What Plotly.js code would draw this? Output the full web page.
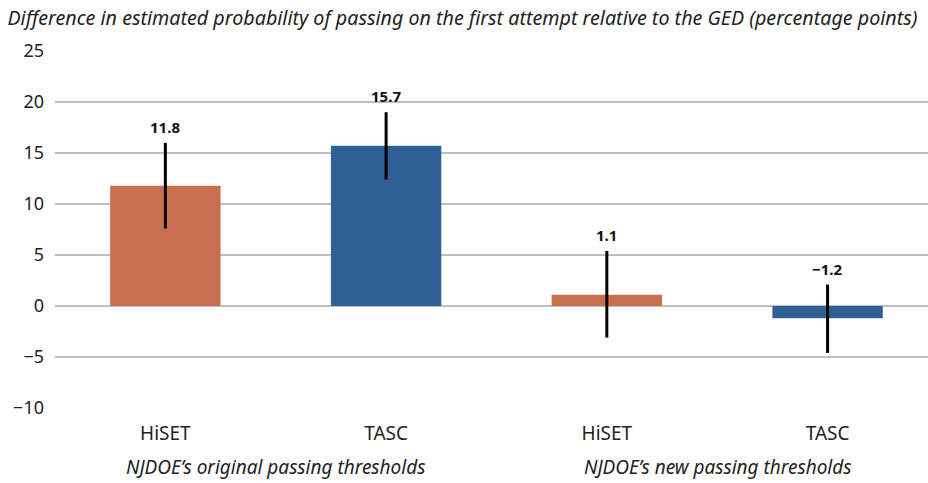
<!DOCTYPE html>
<html>
<head>
<meta charset="utf-8">
<script src="https://cdn.plot.ly/plotly-3.0.1.min.js"></script>
<style>html,body{margin:0;padding:0;background:#fff;}#chart{width:928px;height:483px;}</style>
</head>
<body>
<div id="chart"></div>
<script>
// Data
var groupNames = ["NJDOE’s original passing thresholds", "NJDOE’s new passing thresholds"];
var groupOf = [0, 0, 1, 1];
var tests = ["HiSET", "TASC", "HiSET", "TASC"];
var values = [11.8, 15.7, 1.1, -1.2];
var ciHigh = [16.0, 19.0, 5.4, 2.1];
var ciLow = [7.6, 12.4, -3.1, -4.6];
var labels = ["11.8", "15.7", "1.1", "\u22121.2"];
var colors = ["#C86F4F", "#2E6095", "#C86F4F", "#2E6095"];
var yTicks = [-10, -5, 0, 5, 10, 15, 20, 25];
var yTickText = ["\u221210", "\u22125", "0", "5", "10", "15", "20", "25"];

var FONT = "Noto Sans, Open Sans, sans-serif";
var idx = tests.map(function(_, i){ return i; });
var plus = values.map(function(v, i){ return ciHigh[i] - v; });
var minus = values.map(function(v, i){ return v - ciLow[i]; });

var bars = {
  type: "bar",
  x: idx,
  y: values,
  marker: {color: colors},
  error_y: {type: "data", symmetric: false, array: plus, arrayminus: minus,
            color: "#000", thickness: 3, width: 0},
  hoverinfo: "none",
  showlegend: false
};

var annotations = labels.map(function(t, i){
  return {
    xref: "x", yref: "y", x: i, y: ciHigh[i],
    text: "<b>" + t + "</b>", showarrow: false,
    yanchor: "bottom", yshift: 4,
    font: {family: FONT, size: 15, color: "#111"}
  };
});
groupNames.forEach(function(name, g){
  var members = idx.filter(function(i){ return groupOf[i] === g; });
  var center = members.reduce(function(a, b){ return a + b; }, 0) / members.length;
  annotations.push({
    xref: "x", yref: "paper", x: center, y: 0,
    text: "<i>" + name + "</i>", showarrow: false,
    yanchor: "middle", yshift: -59,
    font: {family: FONT, size: 19, color: "#222"}
  });
});

var layout = {
  width: 928, height: 483,
  margin: {l: 55, r: 0, t: 51, b: 75},
  paper_bgcolor: "#fff", plot_bgcolor: "#fff",
  font: {family: FONT, size: 16, color: "#222"},
  title: {
    text: "<i>Difference in estimated probability of passing on the first attempt relative to the GED (percentage points)</i>",
    font: {family: FONT, size: 19.7, color: "#222"},
    xref: "container", x: 0.008, xanchor: "left",
    yref: "container", y: 0.963, yanchor: "middle"
  },
  bargap: 0.5,
  annotations: annotations,
  xaxis: {
    range: [-0.5, 3.455],
    tickvals: idx, ticktext: tests,
    showgrid: false, zeroline: false, showline: false,
    ticks: "", ticklabelstandoff: 12,
    tickfont: {family: FONT, size: 19, color: "#222"}
  },
  yaxis: {
    range: [-10, 25],
    tickvals: yTicks, ticktext: yTickText,
    showgrid: true, gridcolor: "#BFBFBF", gridwidth: 1.3,
    zeroline: true, zerolinecolor: "#BFBFBF", zerolinewidth: 1.3,
    showline: false, ticks: "", ticklabelstandoff: 10,
    tickfont: {family: FONT, size: 18, color: "#222"}
  }
};
Plotly.newPlot("chart", [bars], layout, {displayModeBar: false, staticPlot: true});
</script>
</body>
</html>
